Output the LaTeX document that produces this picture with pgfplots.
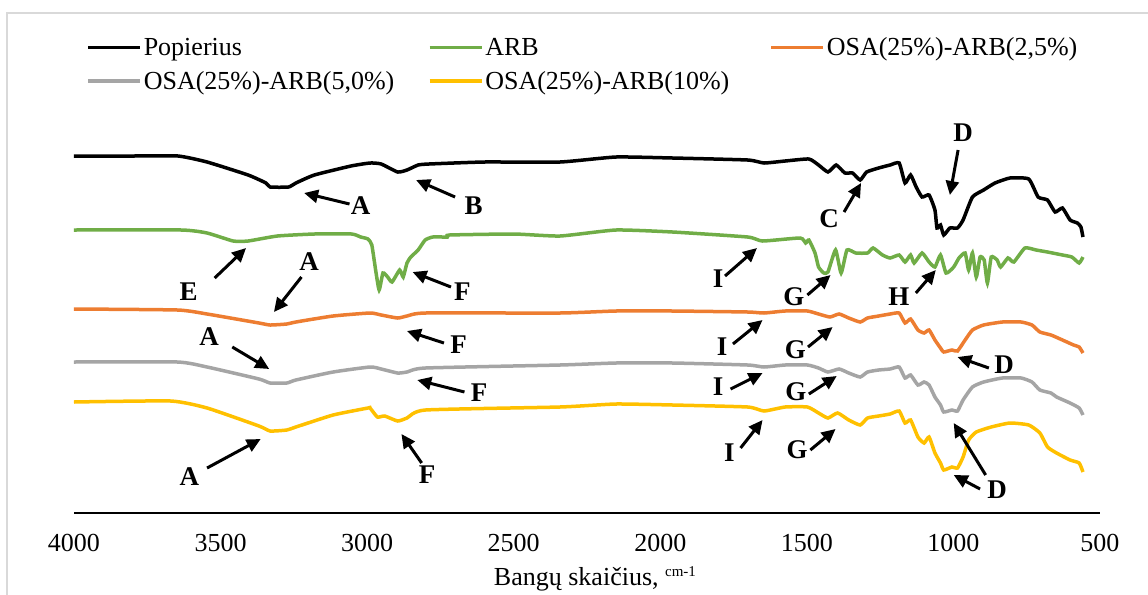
\documentclass[border=0pt]{standalone}
\usepackage{fontspec}
\setmainfont{Liberation Serif}
\usepackage{pgfplots}
\pgfplotsset{compat=1.18}
\usetikzlibrary{arrows.meta}
\definecolor{cgreen}{RGB}{112,173,71}
\definecolor{corange}{RGB}{237,125,49}
\definecolor{cgray}{RGB}{165,165,165}
\definecolor{cyellow}{RGB}{255,192,0}
\definecolor{cframe}{RGB}{217,217,217}
\begin{document}
\begin{tikzpicture}[font=\fontsize{26bp}{31bp}\selectfont,
 arr/.style={-{Triangle[length=14bp,width=13bp]}, line width=3bp, black},
 lab/.style={font=\fontsize{27bp}{30bp}\selectfont\bfseries, inner sep=0pt}]
\draw[cframe, line width=1.5bp] (7bp,-13bp) rectangle (1300bp,-700bp);
\begin{axis}[
 at={(74bp,-513bp)}, anchor=south west, scale only axis, width=1026bp, height=393bp,
 xmin=500, xmax=4000, x dir=reverse, ymin=82, ymax=475,
 axis x line=bottom, axis y line=none,
 x axis line style={-, line width=1.5bp, black},
 xtick={500,1000,...,4000}, major tick length=0pt,
 /pgf/number format/assume math mode=true, /pgf/number format/1000 sep={},
 scaled x ticks=false,
 xticklabel style={anchor=base, yshift=-38bp},
 xlabel={Bangų skaičius, \raisebox{9bp}{\fontsize{15bp}{15bp}\selectfont cm-1}},
 xlabel style={at={(axis description cs:0.5,0)}, anchor=base, yshift=-72bp, xshift=8bp},
 clip=false,
 every axis plot/.append style={line width=3.5bp, smooth, tension=0.3},
 legend columns=3,
 legend cell align=left,
 legend style={at={(axis description cs:0.0118,1.2275)}, anchor=north west, draw=none, fill=none, inner sep=0pt,
   nodes={text width=282bp, align=left, inner xsep=2bp, inner ysep=7bp}},
 legend image code/.code={\draw[#1, line width=3.5bp] (0bp,0bp) -- (52bp,0bp);},
]
\addplot[black] table {
4000 439
3800 439
3645 439
3546 433
3406 420
3345 412
3331 408
3268 408
3243 412
3180 420
3055 429
2990 432
2952 431
2896 423
2864 425
2826 430
2789 431
2600 433
2342 433
2151 438
1958 437
1702 435
1646 432
1574 434
1493 436
1460 430
1428 423
1400 430
1370 422
1344 422
1318 415
1296 423
1255 427
1216 430
1185 432
1165 412
1146 420
1127 408
1107 398
1083 400
1063 385
1056 367
1044 370
1033 360
1012 367
986 367
967 375
935 398
897 405
858 412
807 417
743 416
711 398
679 395
653 383
628 387
602 375
577 372
565 368
558 358
};
\addlegendentry{Popierius}
\addplot[cgreen] table {
4000 365
3634 365
3546 362
3457 354
3406 354
3306 359
3180 361
3053 361
3022 358
2997 356
2984 350
2971 325
2959 305
2946 322
2930 318
2915 313
2889 325
2877 318
2864 332
2851 338
2826 345
2802 355
2776 358
2726 358
2719 360
2500 361
2342 359
2151 365
1958 363
1702 358
1651 354
1523 357
1504 352
1493 355
1472 342
1460 328
1442 322
1428 323
1402 345
1383 322
1363 345
1333 342
1293 342
1274 347
1242 340
1216 337
1185 340
1165 333
1146 340
1134 332
1107 342
1083 333
1063 328
1044 340
1025 322
999 328
981 337
960 342
948 325
935 342
922 318
909 338
895 335
884 312
871 338
851 335
839 328
814 337
794 333
756 347
718 345
679 343
628 340
596 338
571 332
558 338
};
\addlegendentry{ARB}
\addplot[corange] table {
4000 286
3647 285
3546 281
3369 272
3331 270
3274 271
3243 273
3116 279
2990 282
2952 280
2896 277
2864 279
2801 282
2342 282
2151 284
1958 284
1702 283
1646 282
1574 284
1498 284
1460 281
1421 278
1390 281
1357 277
1318 273
1293 277
1255 279
1216 281
1185 282
1165 272
1146 276
1121 265
1100 262
1083 265
1063 255
1044 247
1033 243
1005 245
986 244
960 255
935 265
897 270
833 273
769 273
732 270
705 263
667 260
628 255
590 250
571 248
558 242
};
\addlegendentry{OSA(25\%)-ARB(2,5\%)}
\addplot[cgray] table {
4000 233
3647 233
3546 228
3369 216
3331 212
3274 212
3243 215
3116 223
2990 228
2952 226
2896 222
2864 223
2801 227
2342 230
2151 232
1958 232
1702 230
1646 228
1574 230
1498 230
1460 227
1428 223
1390 226
1357 222
1318 218
1293 223
1255 225
1216 226
1185 228
1165 217
1146 220
1121 210
1100 213
1083 210
1063 198
1044 190
1033 183
1005 185
986 184
967 195
935 208
897 213
833 217
769 217
732 213
705 205
667 202
648 198
602 192
571 187
558 180
};
\addlegendentry{OSA(25\%)-ARB(5,0\%)}
\addplot[cyellow] table {
4000 193
3670 194
3546 187
3369 169
3331 164
3274 165
3243 168
3116 180
2997 187
2990 187
2965 178
2940 179
2896 174
2864 177
2801 185
2342 188
2151 191
1958 190
1702 188
1646 184
1574 188
1498 188
1460 182
1428 177
1395 182
1357 175
1318 170
1293 177
1255 179
1216 181
1185 184
1165 172
1146 175
1121 158
1100 152
1083 158
1063 142
1044 132
1033 125
1005 128
986 127
967 138
948 155
922 163
871 168
807 172
743 170
705 162
679 148
648 142
602 135
571 132
558 123
};
\addlegendentry{OSA(25\%)-ARB(10\%)}
% annotations
\draw[arr] (3060,391) -- (3215,402); \node[lab] at (3022,389) {A};
\draw[arr] (2700,398) -- (2833,415); \node[lab] at (2637,389) {B};
\draw[arr] (3520,317) -- (3413,347); \node[lab] at (3609,303) {E};
\draw[arr] (3224,318) -- (3318,283); \node[lab] at (3198,333) {A};
\draw[arr] (2714,308) -- (2845,323); \node[lab] at (2675,303) {F};
\draw[arr] (2738,252) -- (2864,264); \node[lab] at (2688,250) {F};
\draw[arr] (3460,248) -- (3334,226); \node[lab] at (3539,258) {A};
\draw[arr] (2668,203) -- (2829,215); \node[lab] at (2618,202) {F};
\draw[arr] (3546,127) -- (3363,156); \node[lab] at (3606,118) {A};
\draw[arr] (2814,132) -- (2883,161); \node[lab] at (2795,120) {F};
\draw[arr] (984,445) -- (1012,400); \node[lab] at (967,462) {D};
\draw[arr] (1373,383) -- (1315,412); \node[lab] at (1424,376) {C};
\draw[arr] (1779,319) -- (1670,347); \node[lab] at (1803,316) {I};
\draw[arr] (1498,300) -- (1419,320); \node[lab] at (1544,298) {G};
\draw[arr] (1128,302) -- (1060,325); \node[lab] at (1186,298) {H};
\draw[arr] (1752,251) -- (1651,275); \node[lab] at (1789,248) {I};
\draw[arr] (1496,248) -- (1412,268); \node[lab] at (1539,245) {G};
\draw[arr] (1760,206) -- (1651,222); \node[lab] at (1803,208) {I};
\draw[arr] (1493,201) -- (1398,219); \node[lab] at (1537,203) {G};
\draw[arr] (1726,147) -- (1651,175); \node[lab] at (1764,142) {I};
\draw[arr] (1488,145) -- (1402,166); \node[lab] at (1533,145) {G};
\draw[arr] (879,227) -- (986,238); \node[lab] at (827,230) {D};
\draw[arr] (890,120) -- (999,172); \node[lab] at (851,105) {D};
\draw[arr] (909,106) -- (999,120);
\end{axis}
\pgfresetboundingbox
\path[use as bounding box] (0bp,0bp) rectangle (1148bp,-595bp);
\end{tikzpicture}
\end{document}
